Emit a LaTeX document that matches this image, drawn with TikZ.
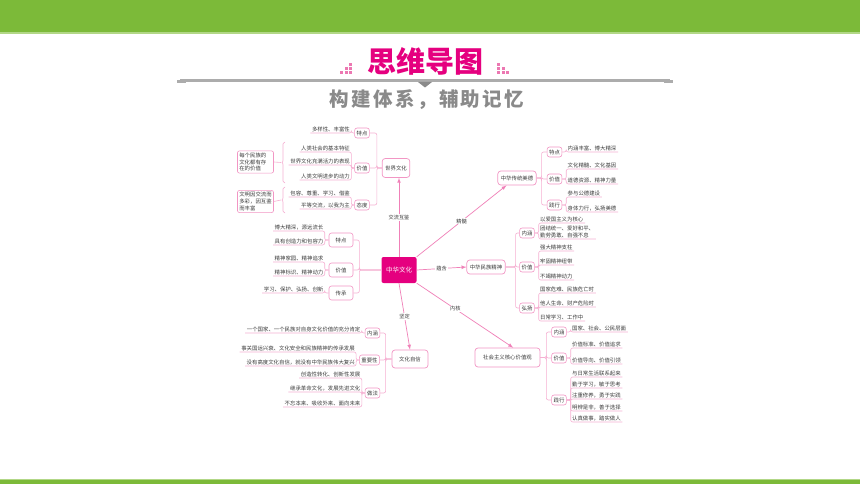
\documentclass[tikz,border=0pt]{standalone}
\usepackage{fontspec}
\setmainfont{Noto Sans CJK SC}
\usepackage{tikz}
\usetikzlibrary{arrows,decorations.pathreplacing}

\definecolor{bandgreen}{RGB}{124,186,57}
\definecolor{bandlight}{RGB}{178,215,135}
\definecolor{rosered}{RGB}{229,0,127}
\definecolor{pinkdot}{RGB}{236,120,178}
\definecolor{pinkline}{RGB}{240,128,184}
\definecolor{pinkedge}{RGB}{242,150,196}
\definecolor{pinktwig}{RGB}{246,176,210}
\definecolor{inkgray}{RGB}{60,60,60}
\definecolor{bargray}{RGB}{172,172,172}
\definecolor{subgray}{RGB}{138,138,138}

\begin{document}
\begin{tikzpicture}[x=1pt,y=-1pt,>=latex,
  every node/.style={text=inkgray,font=\fontsize{5.4}{6.6}\selectfont},
  core/.style={fill=rosered,rounded corners=2pt,text=white,font=\fontsize{6.5}{8}\selectfont,minimum width=35pt,minimum height=26pt},
  topic/.style={draw=pinkedge,fill=white,rounded corners=3pt,line width=.7pt,minimum height=14pt,inner xsep=3pt},
  subtopic/.style={draw=pinkedge,fill=white,rounded corners=2.5pt,line width=.6pt,minimum height=10pt,inner xsep=2pt,inner ysep=0pt},
  leaf/.style={inner xsep=1.5pt,inner ysep=1.2pt},
  note/.style={draw=pinkedge,rounded corners=2pt,line width=.6pt,align=left,text width=32.4pt,inner xsep=1.8pt,inner ysep=2pt},
  tag/.style={fill=white,inner sep=1pt,font=\fontsize{5.2}{6}\selectfont},
  link/.style={draw=pinkline,line width=.7pt},
  twig/.style={draw=pinktwig,line width=.6pt,rounded corners=2pt},
]
\useasboundingbox (0,0) rectangle (860,484);
\fill[white] (0,0) rectangle (860,484);

% header and footer
\fill[bandgreen] (0,0) rectangle (860,32.5);
\fill[bandlight] (0,32.5) rectangle (860,34);
\fill[bandlight] (0,478.5) rectangle (860,480);
\fill[bandgreen] (0,480) rectangle (860,484);
\node[font=\fontsize{29}{30}\selectfont\bfseries,text=rosered] (title) at (425,61) {思维导图};
\foreach \i/\h in {0/1,1/2,2/3}
  \foreach \j in {1,...,\h}
    \fill[pinkdot] (340+\i*4.5,75-4*\j) rectangle ++(3,3);
\foreach \i/\h in {0/3,1/2,2/1}
  \foreach \j in {1,...,\h}
    \fill[pinkdot] (497+\i*4.5,75-4*\j) rectangle ++(3,3);
\fill[bargray] (180,79.5) rectangle (670,82);
\fill[bargray] (177,80.5) rectangle (186,83.5);
\fill[bargray] (664,80.5) rectangle (673,83.5);
\fill[subgray] (418,82) -- (432,82) -- (425,87.5) -- cycle;
\node[font=\fontsize{19.5}{22}\selectfont\bfseries\addfontfeature{LetterSpace=12},text=subgray] (subtitle) at (427,99.5) {构建体系，辅助记忆};

% centre and topics
\node[core] (cen) at (399,270) {中华文化};
\node[topic,minimum height=19pt] (wc) at (396,168) {世界文化};
\node[topic] (ctmd) at (517,178) {中华传统美德};
\node[topic] (mzjs) at (486,267) {中华民族精神};
\node[topic,minimum width=65pt,minimum height=19pt] (hxjz) at (507.5,357.5) {社会主义核心价值观};
\node[topic,minimum width=36pt,minimum height=18pt] (whzx) at (410,359) {文化自信};

\draw[link,->] (cen.north) -- node[tag]{交流互鉴} (cen.north |- wc.south);
\draw[link,->] (cen.north east) -- node[tag]{精髓} (ctmd.-145);
\draw[link,->] (cen.east) -- node[tag]{蕴含} (mzjs.west);
\draw[link,->] (cen.south east) -- node[tag,pos=.4]{内核} (hxjz.60);
\draw[link,->] (cen.south) -- node[tag]{坚定} (whzx.north);

% 世界文化
\foreach \id/\yy/\txt in {1/133/特点,2/168/价值,3/205/态度}{
  \node[subtopic] (wc\id) at (362,\yy) {\txt};
  \draw[twig] (wc.west) -- ++(-5,0) |- (wc\id.east);
}
\node[leaf,anchor=south east] (wc1a) at (351.5,133) {多样性、丰富性};
\draw[twig] (wc1.west) -- ++(-3,0) |- (wc1a.south west);
\foreach \id/\yy/\txt in {a/152/人类社会的基本特征,b/165/世界文化充满活力的表现,c/180/人类文明进步的动力}{
  \node[leaf,anchor=south east] (wc2\id) at (351.5,\yy) {\txt};
  \draw[twig] (wc2.west) -- ++(-3,0) |- (wc2\id.south west);
}
\foreach \id/\yy/\txt in {a/197/包容、尊重、学习、借鉴,b/209/平等交流，以我为主}{
  \node[leaf,anchor=south east] (wc3\id) at (351.5,\yy) {\txt};
  \draw[twig] (wc3.west) -- ++(-3,0) |- (wc3\id.south west);
}
\node[note] (wcs1) at (255.5,162) {每个民族的\\文化都有存\\在的价值};
\node[note] (wcs2) at (255.5,201.5) {文明因交流而\\多彩，因互鉴\\而丰富};
\draw[twig,decorate,decoration={brace,amplitude=4pt}] (285,183) -- (285,142);
\draw[twig,decorate,decoration={brace,amplitude=4pt}] (285,213) -- (285,187);
\coordinate (wcb1) at (281,162.5);
\coordinate (wcb2) at (281,200);
\draw[twig] (wcs1.east) -- (wcb1);
\draw[twig] (wcs2.east) -- (wcb2);

% 中华文化
\foreach \id/\yy/\txt in {1/240/特点,2/270/价值,3/293/传承}{
  \node[subtopic,minimum width=24pt,minimum height=14pt] (zh\id) at (341,\yy) {\txt};
  \draw[twig] (cen.west) -- ++(-22,0) |- (zh\id.east);
}
\foreach \id/\yy/\txt in {a/231/博大精深，源远流长,b/245/具有创造力和包容力}{
  \node[leaf,anchor=south east] (zh1\id) at (325,\yy) {\txt};
  \draw[twig] (zh1.west) -- ++(-4,0) |- (zh1\id.south west);
}
\foreach \id/\yy/\txt in {a/262/精神家园、精神追求,b/276/精神标识、精神动力}{
  \node[leaf,anchor=south east] (zh2\id) at (325,\yy) {\txt};
  \draw[twig] (zh2.west) -- ++(-4,0) |- (zh2\id.south west);
}
\node[leaf,anchor=south east] (zh3a) at (325,293) {学习、保护、弘扬、创新};
\draw[twig] (zh3.west) -- ++(-4,0) |- (zh3a.south west);

% 文化自信
\node[subtopic] (zx1) at (372.5,333) {内涵};
\node[subtopic] (zx2) at (369.5,360) {重要性};
\node[subtopic] (zx3) at (372.5,393) {做法};
\foreach \id in {1,2,3}
  \draw[twig] (whzx.west) -- ++(-6,0) |- (zx\id.east);
\node[leaf,anchor=south east] (zx1a) at (362,333) {一个国家、一个民族对自身文化价值的充分肯定};
\draw[twig] (zx1.west) -- ++(-3,0) |- (zx1a.south west);
\foreach \id/\yy/\txt in {a/352/事关国运兴衰、文化安全和民族精神的传承发展,b/366/没有高度文化自信，就没有中华民族伟大复兴}{
  \node[leaf,anchor=south east] (zx2\id) at (356.4,\yy) {\txt};
  \draw[twig] (zx2.west) -- ++(-3,0) |- (zx2\id.south west);
}
\foreach \id/\yy/\txt in {a/378/创造性转化、创新性发展,b/392/继承革命文化，发展先进文化,c/407/不忘本来、吸收外来、面向未来}{
  \node[leaf,anchor=south east] (zx3\id) at (362,\yy) {\txt};
  \draw[twig] (zx3.west) -- ++(-3,0) |- (zx3\id.south west);
}

% 中华传统美德
\foreach \id/\yy/\txt in {1/152/特点,2/179/价值,3/205/践行}{
  \node[subtopic] (mt\id) at (554.5,\yy) {\txt};
  \draw[twig] (ctmd.east) -- ++(5,0) |- (mt\id.west);
}
\node[leaf,anchor=south west] (mt1a) at (566,152) {内涵丰富、博大精深};
\draw[twig] (mt1.east) -- ++(4,0) |- (mt1a.south east);
\foreach \id/\yy/\txt in {a/169/文化精髓、文化基因,b/184/道德资源、精神力量}{
  \node[leaf,anchor=south west] (mt2\id) at (566,\yy) {\txt};
  \draw[twig] (mt2.east) -- ++(4,0) |- (mt2\id.south east);
}
\foreach \id/\yy/\txt in {a/197/参与公德建设,b/212/身体力行，弘扬美德}{
  \node[leaf,anchor=south west] (mt3\id) at (566,\yy) {\txt};
  \draw[twig] (mt3.east) -- ++(4,0) |- (mt3\id.south east);
}

% 中华民族精神
\foreach \id/\yy/\txt in {1/233/内涵,2/267/价值,3/308/弘扬}{
  \node[subtopic] (mj\id) at (527,\yy) {\txt};
  \draw[twig] (mzjs.east) -- ++(10,0) |- (mj\id.west);
}
\node[leaf,anchor=south west] (mj1a) at (538.4,223) {以爱国主义为核心};
\node[leaf,anchor=south west,align=left] (mj1b) at (538.4,239) {团结统一、爱好和平、\\勤劳勇敢、自强不息};
\foreach \id in {a,b}
  \draw[twig] (mj1.east) -- ++(4,0) |- (mj1\id.south east);
\foreach \id/\yy/\txt in {a/251/强大精神支柱,b/265/牢固精神纽带,c/280/不竭精神动力}{
  \node[leaf,anchor=south west] (mj2\id) at (538.4,\yy) {\txt};
  \draw[twig] (mj2.east) -- ++(4,0) |- (mj2\id.south east);
}
\foreach \id/\yy/\txt in {a/293/国家危难、民族危亡时,b/307/他人生命、财产危险时,c/321/日常学习、工作中}{
  \node[leaf,anchor=south west] (mj3\id) at (538.4,\yy) {\txt};
  \draw[twig] (mj3.east) -- ++(4,0) |- (mj3\id.south east);
}

% 社会主义核心价值观
\foreach \id/\yy/\txt in {1/332/内涵,2/358/价值,3/400/践行}{
  \node[subtopic] (hx\id) at (559,\yy) {\txt};
  \draw[twig] (hxjz.east) -- ++(6,0) |- (hx\id.west);
}
\node[leaf,anchor=south west] (hx1a) at (570.4,332) {国家、社会、公民层面};
\draw[twig] (hx1.east) -- ++(4,0) |- (hx1a.south east);
\foreach \id/\yy/\txt in {a/348/价值标准、价值追求,b/364/价值导向、价值引领}{
  \node[leaf,anchor=south west] (hx2\id) at (570.4,\yy) {\txt};
  \draw[twig] (hx2.east) -- ++(4,0) |- (hx2\id.south east);
}
\foreach \id/\yy/\txt in {a/377/与日常生活联系起来,b/388/勤于学习，敏于思考,c/399/注重修养，勇于实践,d/411/明辨是非，善于选择,e/422/认真做事，踏实做人}{
  \node[leaf,anchor=south west] (hx3\id) at (570.4,\yy) {\txt};
  \draw[twig] (hx3.east) -- ++(4,0) |- (hx3\id.south east);
}
\end{tikzpicture}
\end{document}
